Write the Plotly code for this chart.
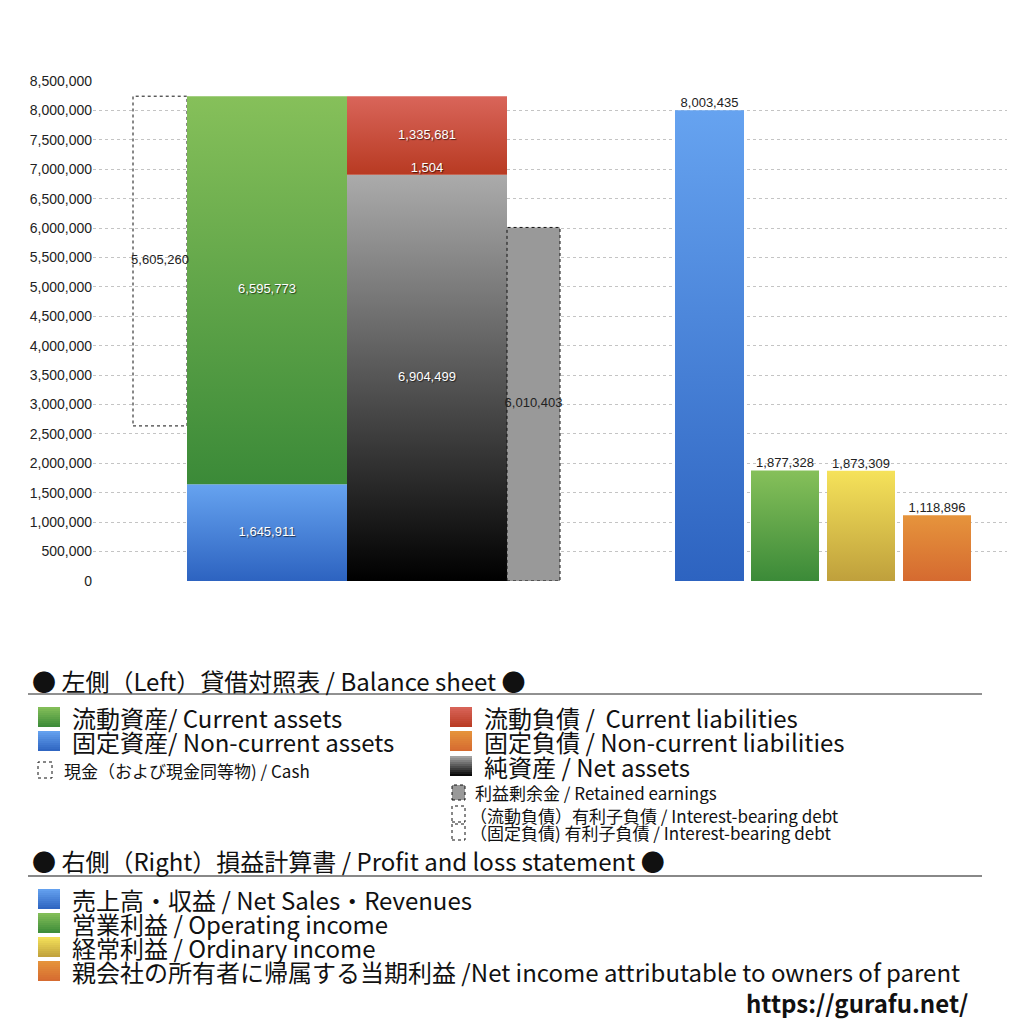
import plotly.graph_objects as go

# 左側 貸借対照表 / Balance sheet
asset_names = ["固定資産", "流動資産"]
asset_values = [1645911, 6595773]
liab_names = ["純資産", "固定負債", "流動負債"]
liab_values = [6904499, 1504, 1335681]
cash_value = 5605260
retained_value = 6010403

# 右側 損益計算書 / Profit and loss statement
pl_names = ["売上高・収益", "営業利益", "経常利益", "親会社の所有者に帰属する当期利益"]
pl_values = [8003435, 1877328, 1873309, 1118896]

y_ticks = [0, 500000, 1000000, 1500000, 2000000, 2500000, 3000000, 3500000, 4000000,
           4500000, 5000000, 5500000, 6000000, 6500000, 7000000, 7500000, 8000000, 8500000]

# レイアウト (x は画面ピクセル相当)
PX_L, PX_R, PY_T, PY_B = 93, 1007, 81, 581
cash_x = (133, 187)
asset_x = (187, 347)
liab_x = (347, 507)
ret_x = (507, 560)
pl_x = [(675, 744), (751, 819), (827, 895), (903, 971)]

asset_colors = [("#2d63c0", "#66a3f0"), ("#3b8a38", "#86c05a")]
liab_colors = [("#000000", "#ababab"), ("#d56a30", "#e6943c"), ("#b83a22", "#d9655a")]
pl_colors = [("#2d63c0", "#66a3f0"), ("#3b8a38", "#86c05a"),
             ("#bfa03c", "#f5e25a"), ("#d56a30", "#e6943c")]

FONT_JP = "Noto Sans CJK JP"
FONT_NUM = "Liberation Sans"

fig = go.Figure()


def grad_bar(xr, base, value, bottom, top):
    x0, x1 = xr
    fig.add_trace(go.Scatter(
        x=[x0, x1, x1, x0, x0], y=[base, base, base + value, base + value, base],
        mode="none", fill="toself",
        fillgradient=dict(type="vertical", colorscale=[[0, bottom], [1, top]],
                          start=base, stop=base + value),
        hoverinfo="skip", showlegend=False))


def dotted_bar(xr, base, value, fill):
    x0, x1 = xr
    fig.add_trace(go.Scatter(
        x=[x0, x1, x1, x0, x0], y=[base, base, base + value, base + value, base],
        mode="lines", fill="toself", fillcolor=fill,
        line=dict(color="#111111", width=1, dash="dot"),
        hoverinfo="skip", showlegend=False))


def label(x, y, v, color, pos="middle center", shadow="none"):
    fig.add_trace(go.Scatter(
        x=[x], y=[y], mode="text", text=[f"{v:,}"], textposition=pos,
        textfont=dict(family=FONT_NUM, size=13, color=color, shadow=shadow),
        hoverinfo="skip", showlegend=False))


total_assets = sum(asset_values)
SH = "1px 1px 1px rgba(0,0,0,0.6)"

# 現金 (点線)
cash_base = total_assets - cash_value
dotted_bar(cash_x, cash_base, cash_value, "rgba(255,255,255,0)")

# 資産
base = 0
for v, (b, t) in zip(asset_values, asset_colors):
    grad_bar(asset_x, base, v, b, t)
    base += v

# 負債・純資産
base = 0
for v, (b, t) in zip(liab_values, liab_colors):
    grad_bar(liab_x, base, v, b, t)
    base += v

# 利益剰余金 (点線)
dotted_bar(ret_x, 0, retained_value, "#999999")

# 損益計算書
for xr, v, (b, t) in zip(pl_x, pl_values, pl_colors):
    grad_bar(xr, 0, v, b, t)

# 数値ラベル
cx = lambda xr: (xr[0] + xr[1]) / 2
label(cx(cash_x), cash_base + cash_value / 2, cash_value, "#222222")
base = 0
for v in asset_values:
    label(cx(asset_x), base + v / 2, v, "white", shadow=SH)
    base += v
base = 0
for i, v in enumerate(liab_values):
    if v < 100000:
        label(cx(liab_x), base + v, v, "white", pos="top center", shadow=SH)
    else:
        label(cx(liab_x), base + v / 2, v, "white", shadow=SH)
    base += v
label(cx(ret_x), retained_value / 2, retained_value, "#222222")
for xr, v in zip(pl_x, pl_values):
    label(cx(xr), v, v, "#222222", pos="top center")


# 凡例 (ピクセル → paper)
def px(x):
    return (x - PX_L) / (PX_R - PX_L)


def py(y):
    return (PY_B - y) / (PY_B - PY_T)


shapes = []
annotations = []


def text(x, y, s, size, bold=False, color="#111111", anchor="left"):
    annotations.append(dict(
        x=px(x), y=py(y), xref="paper", yref="paper", xanchor=anchor, yanchor="middle",
        text=f"<b>{s}</b>" if bold else s, showarrow=False,
        font=dict(family=FONT_JP, size=size, color=color)))


def mix(c1, c2, t):
    a = [int(c1[i:i + 2], 16) for i in (1, 3, 5)]
    b = [int(c2[i:i + 2], 16) for i in (1, 3, 5)]
    return "rgb(%d,%d,%d)" % tuple(round(a[k] + (b[k] - a[k]) * t) for k in range(3))


def swatch(x0, y0, x1, y1, bottom, top, n=10):
    h = (y1 - y0) / n
    for k in range(n):
        shapes.append(dict(
            type="rect", xref="paper", yref="paper", layer="above",
            x0=px(x0), x1=px(x1), y0=py(y1 - k * h), y1=py(y1 - (k + 1) * h),
            fillcolor=mix(bottom, top, (k + 0.5) / n), line=dict(width=0)))


def dotted_swatch(x0, y0, x1, y1, fill):
    shapes.append(dict(
        type="rect", xref="paper", yref="paper", layer="above",
        x0=px(x0), x1=px(x1), y0=py(y1), y1=py(y0), fillcolor=fill,
        line=dict(color="#111111", width=1, dash="dot")))


def hline(y, color, width):
    shapes.append(dict(type="line", xref="paper", yref="paper",
                       x0=px(28), x1=px(982), y0=py(y), y1=py(y),
                       line=dict(color=color, width=width)))


BIG, SMALL = 24, 17

text(30, 680, "● 左側（Left）貸借対照表 / Balance sheet ●", BIG)
hline(694, "#222222", 1)

swatch(38, 707, 60, 727, *asset_colors[1])
text(70, 717, "流動資産/ Current assets", BIG)
swatch(38, 731, 60, 751, *asset_colors[0])
text(70, 741, "固定資産/ Non-current assets", BIG)
dotted_swatch(38, 762, 52, 778, "white")
text(62, 770, "現金（および現金同等物) / Cash", SMALL)

swatch(450, 707, 472, 727, *liab_colors[2])
text(482, 717, "流動負債 /  Current liabilities", BIG)
swatch(450, 731, 472, 751, *liab_colors[1])
text(482, 741, "固定負債 / Non-current liabilities", BIG)
swatch(450, 756, 472, 776, *liab_colors[0])
text(482, 766, "純資産 / Net assets", BIG)
dotted_swatch(452, 785, 465, 800, "#999999")
text(473, 792, "利益剰余金 / Retained earnings", SMALL)
dotted_swatch(452, 806, 465, 822, "white")
text(468, 815, "（流動負債）有利子負債 / Interest-bearing debt", SMALL)
dotted_swatch(452, 824, 465, 840, "white")
text(468, 832, "（固定負債) 有利子負債 / Interest-bearing debt", SMALL)

text(30, 860, "● 右側（Right）損益計算書 / Profit and loss statement ●", BIG)
hline(876, "#888888", 2)

pl_legend = ["売上高・収益 / Net Sales・Revenues", "営業利益 / Operating income",
             "経常利益 / Ordinary income",
             "親会社の所有者に帰属する当期利益 /Net income attributable to owners of parent"]
for i, (s, (b, t)) in enumerate(zip(pl_legend, pl_colors)):
    yc = 899 + i * 24
    swatch(38, yc - 10, 60, yc + 10, b, t)
    text(70, yc, s, BIG)

text(970, 1003, "https://gurafu.net/", 24, bold=True, anchor="right")

fig.update_layout(
    width=1024, height=1024, autosize=False,
    margin=dict(l=PX_L, r=1024 - PX_R, t=PY_T, b=1024 - PY_B),
    paper_bgcolor="white", plot_bgcolor="white",
    xaxis=dict(range=[PX_L, PX_R], visible=False, fixedrange=True),
    yaxis=dict(range=[0, 8500000], tickvals=y_ticks, tickformat=",",
               showgrid=True, gridcolor="#c4c4c4", griddash="dot", gridwidth=1,
               zeroline=False, showline=False, ticks="",
               tickfont=dict(family=FONT_NUM, size=14, color="#222222")),
    shapes=shapes, annotations=annotations, showlegend=False,
)

fig.write_html("out.html", config={"displayModeBar": False},
               post_script="document.body.style.margin='0';")
